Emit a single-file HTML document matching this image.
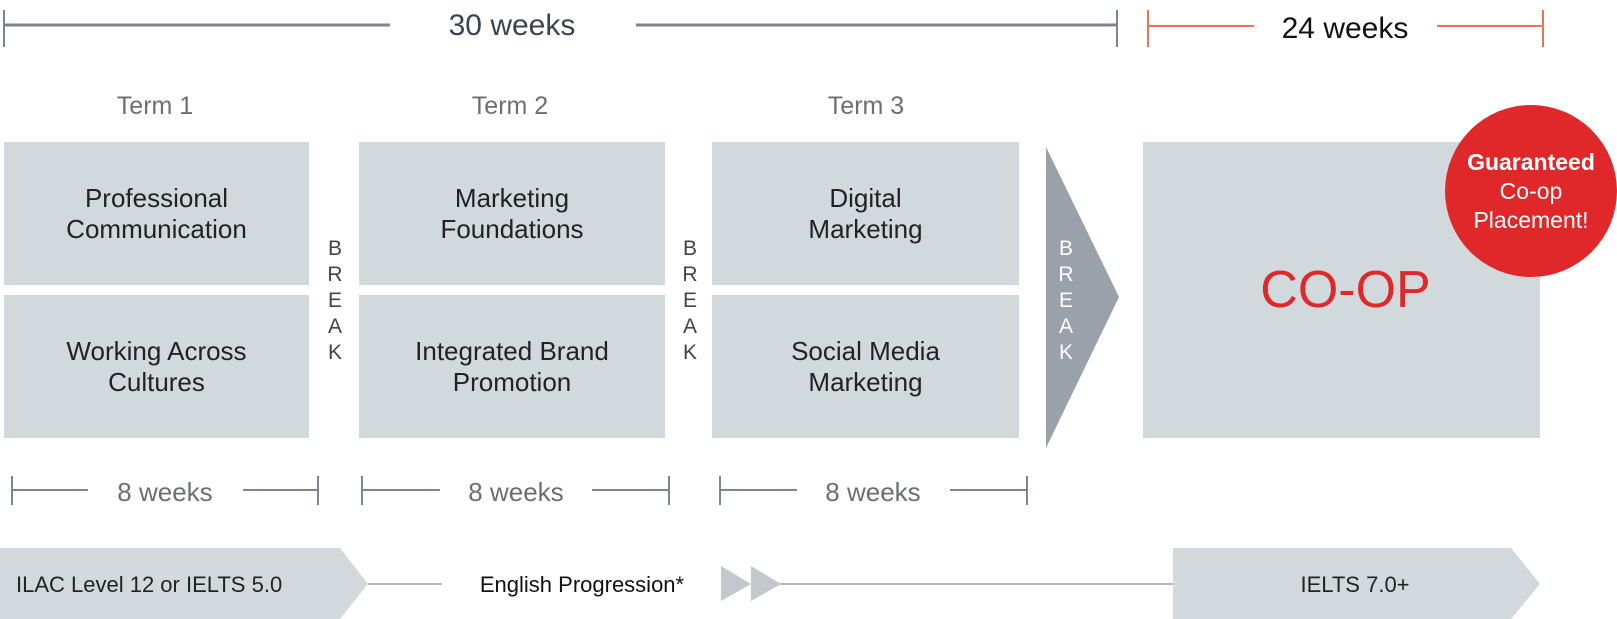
<!DOCTYPE html>
<html><head><meta charset="utf-8"><style>
body{margin:0;width:1617px;height:619px;background:#fff;position:relative;overflow:hidden;font-family:"Liberation Sans",sans-serif}
.a{position:absolute}
.box{position:absolute;background:#d1d9dd;display:flex;align-items:center;justify-content:center;text-align:center;font-size:26px;line-height:31px;color:#222}
.t{position:absolute;transform:translateX(-50%);white-space:nowrap}
.brk{position:absolute;width:20px;text-align:center;font-size:21px;line-height:26px;color:#444}
</style></head><body>
<svg class="a" style="left:0;top:0" width="1617" height="619">
<g stroke="#7d8590" stroke-width="3"><line x1="4" y1="25" x2="390" y2="25"/><line x1="636" y1="25" x2="1117" y2="25"/></g>
<g stroke="#7d8590" stroke-width="2"><line x1="4" y1="10" x2="4" y2="47"/><line x1="1117" y1="10" x2="1117" y2="47"/></g>
<g stroke="#e8735a" stroke-width="2"><line x1="1148" y1="26" x2="1254" y2="26"/><line x1="1437" y1="26" x2="1543" y2="26"/><line x1="1148" y1="10" x2="1148" y2="47"/><line x1="1543" y1="10" x2="1543" y2="47"/></g>
<g stroke="#7d8590" stroke-width="2">
<line x1="12" y1="490" x2="88" y2="490"/><line x1="243" y1="490" x2="318" y2="490"/><line x1="12" y1="476" x2="12" y2="505"/><line x1="318" y1="476" x2="318" y2="505"/>
<line x1="362" y1="490" x2="440" y2="490"/><line x1="592" y1="490" x2="669" y2="490"/><line x1="362" y1="476" x2="362" y2="505"/><line x1="669" y1="476" x2="669" y2="505"/>
<line x1="720" y1="490" x2="797" y2="490"/><line x1="950" y1="490" x2="1027" y2="490"/><line x1="720" y1="476" x2="720" y2="505"/><line x1="1027" y1="476" x2="1027" y2="505"/>
</g>
<polygon points="1046,147 1119,297 1046,448" fill="#9aa1ab"/>
<polygon points="0,548 340,548 368,584 340,619 0,619" fill="#d1d9dd"/>
<polygon points="1173,548 1511,548 1540,584 1511,619 1173,619" fill="#d1d9dd"/>
<line x1="368" y1="584" x2="442" y2="584" stroke="#9aa1ab" stroke-width="1.5"/>
<line x1="780" y1="584" x2="1173" y2="584" stroke="#9aa1ab" stroke-width="1.5"/>
<polygon points="721,566 751,584 721,601" fill="#c2c8ce"/><polygon points="751,566 781,584 751,601" fill="#c2c8ce"/>
</svg>
<div class="t" style="left:512px;top:9px;font-size:30px;color:#3a4450">30 weeks</div>
<div class="t" style="left:1345px;top:12px;font-size:30px;color:#111">24 weeks</div>
<div class="t" style="left:155px;top:92px;font-size:25px;color:#6d6e71">Term 1</div>
<div class="t" style="left:510px;top:92px;font-size:25px;color:#6d6e71">Term 2</div>
<div class="t" style="left:866px;top:92px;font-size:25px;color:#6d6e71">Term 3</div>
<div class="box" style="left:4px;top:142px;width:305px;height:143px">Professional<br>Communication</div>
<div class="box" style="left:4px;top:295px;width:305px;height:143px">Working Across<br>Cultures</div>
<div class="box" style="left:359px;top:142px;width:306px;height:143px">Marketing<br>Foundations</div>
<div class="box" style="left:359px;top:295px;width:306px;height:143px">Integrated Brand<br>Promotion</div>
<div class="box" style="left:712px;top:142px;width:307px;height:143px">Digital<br>Marketing</div>
<div class="box" style="left:712px;top:295px;width:307px;height:143px">Social Media<br>Marketing</div>
<div class="box" style="left:1143px;top:142px;width:397px;height:296px;color:#e0282a;font-size:52px;padding-left:8px;box-sizing:border-box">CO-OP</div>
<div class="a" style="left:1445px;top:105px;width:172px;height:172px;border-radius:50%;background:#e0282a;color:#fff;text-align:center;font-size:23px;line-height:29px;display:flex;align-items:center;justify-content:center"><div><b>Guaranteed</b><br>Co-op<br>Placement!</div></div>
<div class="brk" style="left:325px;top:236px">B<br>R<br>E<br>A<br>K</div>
<div class="brk" style="left:680px;top:236px">B<br>R<br>E<br>A<br>K</div>
<div class="brk" style="left:1056px;top:236px;color:#fff">B<br>R<br>E<br>A<br>K</div>
<div class="t" style="left:165px;top:477px;font-size:26px;color:#6d6e71">8 weeks</div>
<div class="t" style="left:516px;top:477px;font-size:26px;color:#6d6e71">8 weeks</div>
<div class="t" style="left:873px;top:477px;font-size:26px;color:#6d6e71">8 weeks</div>
<div class="a" style="left:16px;top:572px;font-size:22px;color:#222">ILAC Level 12 or IELTS 5.0</div>
<div class="t" style="left:582px;top:572px;font-size:22px;color:#111">English Progression*</div>
<div class="t" style="left:1355px;top:572px;font-size:22px;color:#222">IELTS 7.0+</div>
</body></html>
